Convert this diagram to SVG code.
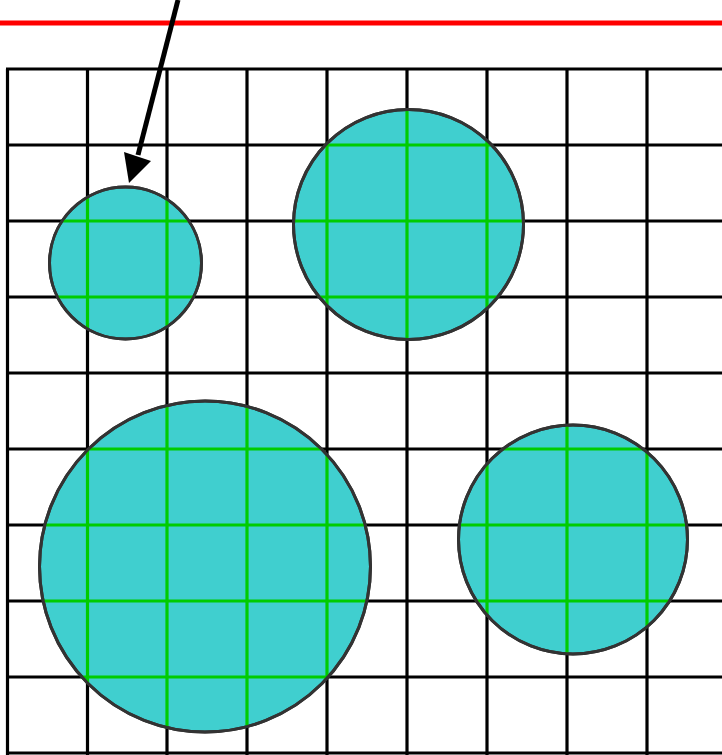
<svg xmlns="http://www.w3.org/2000/svg" width="722" height="755" viewBox="0 0 722 755">
<style>
.grid line{stroke:#000;stroke-width:3.2}
.c{fill:#40cfcf;stroke:#333;stroke-width:3}
.ring{fill:none;stroke:#333;stroke-width:3}
</style>
<defs>
<clipPath id="cp1"><circle cx="125.5" cy="263" r="76"/></clipPath>
<clipPath id="cp2"><circle cx="408.5" cy="224.5" r="115"/></clipPath>
<clipPath id="cp3"><circle cx="205" cy="566.5" r="165.5"/></clipPath>
<clipPath id="cp4"><circle cx="573" cy="539.5" r="114.5"/></clipPath>
<g id="gl" stroke="#00cc00" stroke-width="3.2">
<line x1="87.5" y1="60" x2="87.5" y2="760"/><line x1="167" y1="60" x2="167" y2="760"/><line x1="247" y1="60" x2="247" y2="760"/><line x1="327" y1="60" x2="327" y2="760"/><line x1="407" y1="60" x2="407" y2="760"/><line x1="487" y1="60" x2="487" y2="760"/><line x1="567" y1="60" x2="567" y2="760"/><line x1="647" y1="60" x2="647" y2="760"/>
<line x1="0" y1="145" x2="730" y2="145"/><line x1="0" y1="221" x2="730" y2="221"/><line x1="0" y1="297" x2="730" y2="297"/><line x1="0" y1="373" x2="730" y2="373"/><line x1="0" y1="449" x2="730" y2="449"/><line x1="0" y1="525" x2="730" y2="525"/><line x1="0" y1="601" x2="730" y2="601"/><line x1="0" y1="677" x2="730" y2="677"/>
</g>
</defs>
<line x1="0" y1="23" x2="722" y2="23" stroke="#ff0000" stroke-width="5"/>
<g id="grid" class="grid">
<line x1="7.5" y1="69" x2="7.5" y2="755"/>
<line x1="6" y1="69" x2="730" y2="69"/>
<line x1="6" y1="753" x2="730" y2="753"/>
<line x1="87.5" y1="69" x2="87.5" y2="755"/><line x1="167" y1="69" x2="167" y2="755"/><line x1="247" y1="69" x2="247" y2="755"/><line x1="327" y1="69" x2="327" y2="755"/><line x1="407" y1="69" x2="407" y2="755"/><line x1="487" y1="69" x2="487" y2="755"/><line x1="567" y1="69" x2="567" y2="755"/><line x1="647" y1="69" x2="647" y2="755"/>
<line x1="7" y1="145" x2="730" y2="145"/><line x1="7" y1="221" x2="730" y2="221"/><line x1="7" y1="297" x2="730" y2="297"/><line x1="7" y1="373" x2="730" y2="373"/><line x1="7" y1="449" x2="730" y2="449"/><line x1="7" y1="525" x2="730" y2="525"/><line x1="7" y1="601" x2="730" y2="601"/><line x1="7" y1="677" x2="730" y2="677"/>
</g>
<g id="circle1"><circle class="c" cx="125.5" cy="263" r="76"/><use href="#gl" clip-path="url(#cp1)"/><circle class="ring" cx="125.5" cy="263" r="76"/></g>
<g id="circle2"><circle class="c" cx="408.5" cy="224.5" r="115"/><use href="#gl" clip-path="url(#cp2)"/><circle class="ring" cx="408.5" cy="224.5" r="115"/></g>
<g id="circle3"><circle class="c" cx="205" cy="566.5" r="165.5"/><use href="#gl" clip-path="url(#cp3)"/><circle class="ring" cx="205" cy="566.5" r="165.5"/></g>
<g id="circle4"><circle class="c" cx="573" cy="539.5" r="114.5"/><use href="#gl" clip-path="url(#cp4)"/><circle class="ring" cx="573" cy="539.5" r="114.5"/></g>
<g id="connectors">
<line x1="178" y1="0" x2="138" y2="155" stroke="#000" stroke-width="5"/>
<polygon points="129,183 124,152 151,161" fill="#000"/>
</g>
</svg>
